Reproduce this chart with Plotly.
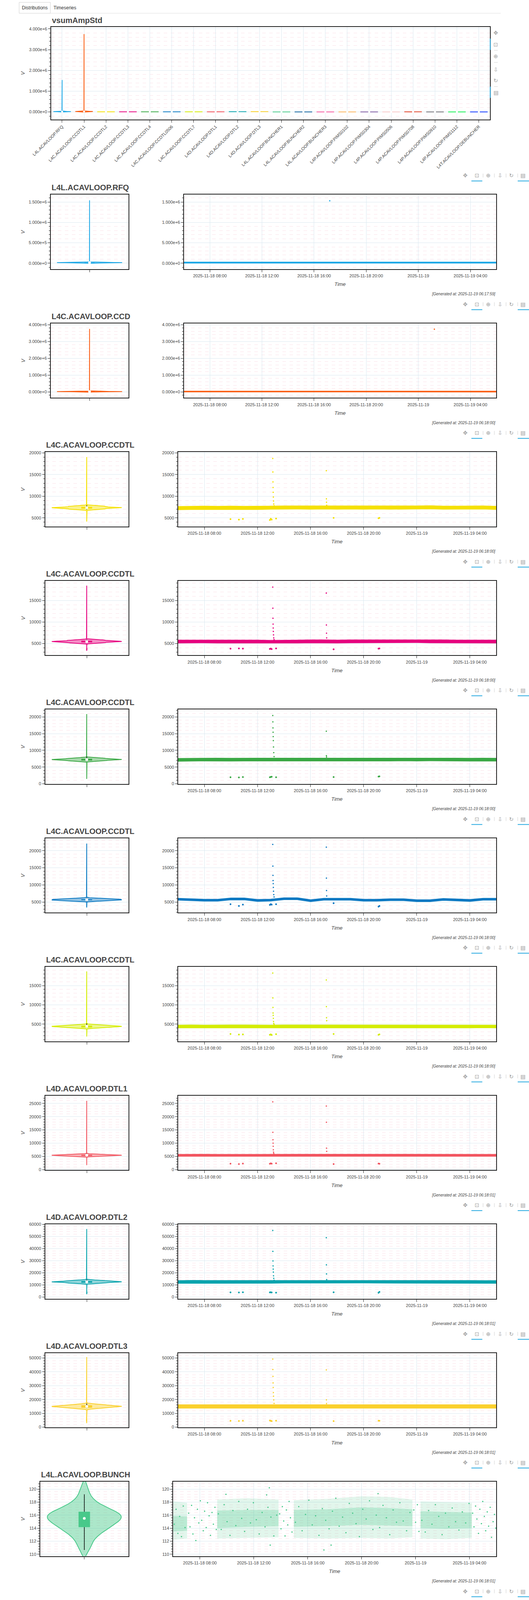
import numpy as np
import plotly.graph_objects as go

W, H = 1354, 7029
FONT = "Liberation Sans, Arial, sans-serif"

# ---------------- data ----------------
names = [
    "L4L.ACAVLOOP.RFQ", "L4C.ACAVLOOP.CCDTL1", "L4C.ACAVLOOP.CCDTL2", "L4C.ACAVLOOP.CCDTL3",
    "L4C.ACAVLOOP.CCDTL4", "L4C.ACAVLOOP.CCDTL0506", "L4C.ACAVLOOP.CCDTL7", "L4D.ACAVLOOP.DTL1",
    "L4D.ACAVLOOP.DTL2", "L4D.ACAVLOOP.DTL3", "L4L.ACAVLOOP.BUNCHER1", "L4L.ACAVLOOP.BUNCHER2",
    "L4L.ACAVLOOP.BUNCHER3", "L4P.ACAVLOOP.PIMS0102", "L4P.ACAVLOOP.PIMS0304", "L4P.ACAVLOOP.PIMS0506",
    "L4P.ACAVLOOP.PIMS0708", "L4P.ACAVLOOP.PIMS0910", "L4P.ACAVLOOP.PIMS1112", "L4T.ACAVLOOP.DEBUNCHER",
]
# panel titles as they show (clipped at the panel edge)
shown_titles = [
    "L4L.ACAVLOOP.RFQ", "L4C.ACAVLOOP.CCD", "L4C.ACAVLOOP.CCDTL", "L4C.ACAVLOOP.CCDTL",
    "L4C.ACAVLOOP.CCDTL", "L4C.ACAVLOOP.CCDTL", "L4C.ACAVLOOP.CCDTL", "L4D.ACAVLOOP.DTL1",
    "L4D.ACAVLOOP.DTL2", "L4D.ACAVLOOP.DTL3", "L4L.ACAVLOOP.BUNCH", "L4L.ACAVLOOP.BUNCHE",
    "L4L.ACAVLOOP.BUNCH", "L4P.ACAVLOOP.PIMS01", "L4P.ACAVLOOP.PIMS03", "L4P.ACAVLOOP.PIMS05",
    "L4P.ACAVLOOP.PIMS0", "L4P.ACAVLOOP.PIMS09", "L4P.ACAVLOOP.PIMS11", "L4T.ACAVLOOP.DEBUN",
]
generated_at = [
    "2025-11-19 06:17:59", "2025-11-19 06:18:00", "2025-11-19 06:18:00", "2025-11-19 06:18:00",
    "2025-11-19 06:18:00", "2025-11-19 06:18:00", "2025-11-19 06:18:00", "2025-11-19 06:18:01",
    "2025-11-19 06:18:01", "2025-11-19 06:18:01", "2025-11-19 06:18:01", "2025-11-19 06:18:01",
    "2025-11-19 06:18:01", "2025-11-19 06:18:02", "2025-11-19 06:18:02", "2025-11-19 06:18:02",
    "2025-11-19 06:18:02", "2025-11-19 06:18:02", "2025-11-19 06:18:02", "2025-11-19 06:18:03",
]

hours = [
    "2025-11-18 06:00", "2025-11-18 07:00", "2025-11-18 08:00", "2025-11-18 09:00", "2025-11-18 10:00",
    "2025-11-18 11:00", "2025-11-18 12:00", "2025-11-18 13:00", "2025-11-18 14:00", "2025-11-18 15:00",
    "2025-11-18 16:00", "2025-11-18 17:00", "2025-11-18 18:00", "2025-11-18 19:00", "2025-11-18 20:00",
    "2025-11-18 21:00", "2025-11-18 22:00", "2025-11-18 23:00", "2025-11-19 00:00", "2025-11-19 01:00",
    "2025-11-19 02:00", "2025-11-19 03:00", "2025-11-19 04:00", "2025-11-19 05:00", "2025-11-19 06:00",
]
spike_times = [
    "2025-11-18 13:09:00", "2025-11-18 13:09:30", "2025-11-18 13:10:00", "2025-11-18 13:10:30",
    "2025-11-18 13:11:00", "2025-11-18 13:11:40", "2025-11-18 13:12:30", "2025-11-18 13:13:30",
    "2025-11-18 13:15:00", "2025-11-18 17:11:00", "2025-11-18 17:11:30", "2025-11-18 17:12:00",
    "2025-11-18 17:12:40", "2025-11-19 01:14:00",
]
dip_times = [
    "2025-11-18 09:58", "2025-11-18 10:36", "2025-11-18 10:54", "2025-11-18 12:56", "2025-11-18 13:00",
    "2025-11-18 13:04", "2025-11-18 13:24", "2025-11-18 17:44", "2025-11-18 21:07", "2025-11-18 21:11",
]

# band centre (hourly), band half-thickness, spike values, dip values
mid_rfq = [16000, 15000, 15000, 15000, 15500, 15000, 15000, 15000, 15500, 15000, 15000, 15000, 15000,
           15000, 15000, 15500, 16000, 16000, 15000, 16000, 16000, 16000, 15500, 15000, 15000]
half_rfq = 9000
spk_rfq = [None, None, None, None, None, None, None, None, None, None, None, 1530000, None, None]
dip_rfq = []

mid_ccdtl1 = [21000, 20000, 20000, 20500, 20000, 20000, 20000, 19500, 20000, 20000, 20500, 20000, 20000,
              20000, 20000, 20500, 20000, 20000, 20000, 19500, 20000, 20000, 20500, 20000, 20000]
half_ccdtl1 = 15000
spk_ccdtl1 = [None, None, None, None, None, None, None, None, None, None, None, None, None, 3730000]
dip_ccdtl1 = []

mid_ccdtl2 = [7250, 7300, 7350, 7300, 7350, 7300, 7300, 7350, 7400, 7400, 7350, 7400, 7350,
              7400, 7350, 7400, 7350, 7350, 7400, 7450, 7350, 7350, 7400, 7400, 7300]
half_ccdtl2 = 330
spk_ccdtl2 = [18700, 15600, 13300, 12000, 10900, 9800, 8900, 8200, 7800, 15900, 9400, 8600, 7900, None]
dip_ccdtl2 = [4700, 4600, 4750, 4500, 4800, 4600, 4850, 5000, 4900, 5000]

mid_ccdtl3 = [5450, 5450, 5500, 5450, 5450, 5450, 5450, 5400, 5450, 5450, 5500, 5500, 5450,
              5500, 5500, 5500, 5500, 5550, 5550, 5500, 5500, 5450, 5450, 5450, 5450]
half_ccdtl3 = 300
spk_ccdtl3 = [18100, 13200, 10850, 9500, 8600, 7800, 7000, 6300, 5900, 16700, 9300, 7400, 6300, None]
dip_ccdtl3 = [3800, 3850, 3800, 3750, 3800, 3700, 3850, 3650, 3800, 3850]

mid_ccdtl4 = [7150, 7200, 7250, 7250, 7200, 7250, 7250, 7250, 7250, 7250, 7250, 7250, 7300,
              7300, 7300, 7250, 7250, 7300, 7250, 7300, 7300, 7250, 7200, 7250, 7200]
half_ccdtl4 = 380
spk_ccdtl4 = [20400, 18500, 16700, 15400, 14100, 12900, 11000, 9300, 8100, 15700, 8400, 8000, None, None]
dip_ccdtl4 = [1950, 1900, 2000, 1950, 2050, 2100, 1950, 2000, 2150, 2200]

mid_ccdtl0506 = [5860, 5700, 5570, 5570, 5930, 5930, 5500, 5600, 6000, 6000, 5430, 5860, 5860,
                 5860, 5570, 5570, 5720, 5720, 5430, 5430, 5800, 5640, 5500, 5860, 5860]
half_ccdtl0506 = 230
spk_ccdtl0506 = [21800, 15500, 12800, 11300, 10400, 9300, 8200, 7200, 6500, 21000, 12000, 8400, 6800, None]
dip_ccdtl0506 = [4400, 3900, 4300, 4200, 4400, 4300, 4400, 4700, 3700, 3900]

mid_ccdtl7 = [4400, 4450, 4400, 4450, 4450, 4450, 4400, 4400, 4450, 4450, 4450, 4450, 4450,
              4450, 4400, 4400, 4400, 4450, 4400, 4450, 4450, 4400, 4400, 4450, 4400]
half_ccdtl7 = 320
spk_ccdtl7 = [18250, 11800, 9350, 7900, 7300, 6500, 5700, 5200, 4900, 16450, 9550, 6650, 5900, None]
dip_ccdtl7 = [2450, 2300, 2350, 2250, 2350, 2200, 2400, 2450, 2250, 2350]

mid_dtl1 = [5400, 5450, 5450, 5400, 5450, 5400, 5400, 5450, 5450, 5450, 5450, 5450, 5450,
            5450, 5450, 5450, 5450, 5400, 5450, 5450, 5450, 5450, 5400, 5400, 5400]
half_dtl1 = 320
spk_dtl1 = [25600, 14100, 11300, 10000, 8800, 7500, 6600, 6100, 5800, 24000, 17900, 8100, 6900, None]
dip_dtl1 = [2250, 2100, 2300, 2200, 2350, 2250, 2400, 2100, 2300, 2200]

mid_dtl2 = [12400, 12600, 12500, 12500, 12500, 12500, 12500, 12500, 12600, 12700, 12600, 12600, 12600,
            12600, 12700, 12600, 12600, 12600, 12500, 12500, 12600, 12500, 12500, 12400, 12400]
half_dtl2 = 1000
spk_dtl2 = [55000, 37700, 29800, 25700, 23000, 20600, 17500, 15400, 13800, 49000, 26600, 19100, 14400, None]
dip_dtl2 = [3800, 3700, 3900, 3800, 3900, 3700, 3600, 3900, 3500, 4200]

mid_dtl3 = [15000, 15100, 15000, 15000, 15000, 15000, 15000, 15000, 15100, 15100, 15100, 15000, 15000,
            15100, 15000, 15000, 15100, 15100, 15000, 15100, 15100, 15100, 15000, 15000, 15000]
half_dtl3 = 1150
spk_dtl3 = [49200, 41700, 36700, 32000, 28700, 25000, 22400, 19700, 17200, 41400, 19700, 17000, None, None]
dip_dtl3 = [4600, 4500, 4700, 4800, 4600, 4400, 4700, 4400, 4700, 4600]

mid_pims0102 = [2560, 2570, 2560, 2560, 2560, 2570, 2570, 2600, 2570, 2580, 2580, 2570, 2570,
                2570, 2580, 2580, 2600, 2580, 2600, 2620, 2600, 2600, 2550, 2560, 2560]
half_pims0102 = 170
spk_pims0102 = [9090, 7370, 6430, 5580, 5030, 4510, 4050, 3510, 3000, 8430, 3950, 3330, 2700, None]
dip_pims0102 = [1600, 1620, 1650, 1580, 1700, 1620, 1650, 1600, 1700, 1550]

mid_pims0304 = [2050, 2050, 2050, 2050, 2050, 2050, 2050, 2050, 2050, 2050, 2050, 2080, 2080,
                2080, 2050, 2050, 2050, 2050, 2050, 2100, 2100, 2100, 2050, 2000, 2000]
half_pims0304 = 190
spk_pims0304 = [7830, 4170, 3380, 2910, 2500, None, None, None, None, 7250, 6060, 3040, 2400, None]
dip_pims0304 = [1350, 1380, 1400, 1300, 1420, 1350, 1400, 1380, 1250, 1450]

mid_pims0506 = [3000, 2960, 2950, 2950, 2940, 2950, 2950, 2960, 2950, 2960, 2950, 2960, 2960,
                2970, 2980, 2970, 2980, 2960, 2960, 2970, 2960, 2960, 2950, 2940, 2950]
half_pims0506 = 170
spk_pims0506 = [8300, 7420, 6410, 5780, 5150, 4530, 3900, 3500, 3150, 8050, 3700, 3300, None, None]
dip_pims0506 = [2200, 2250, 2300, 2000, 2150, 2050, 2400, 2100, 2200, 2350]

mid_pims0708 = [4280, 4300, 4320, 4300, 4310, 4300, 4300, 4320, 4300, 4330, 4320, 4310, 4300,
                4320, 4330, 4320, 4300, 4320, 4330, 4340, 4330, 4330, 4320, 4300, 4310]
half_pims0708 = 300
spk_pims0708 = [9800, 7760, 6620, 6290, 5550, 5030, 4700, None, None, 9050, 5230, 4600, None, None]
dip_pims0708 = [3620, 3640, 3700, 3650, 3600, 3630, 3680, 3700, 3560, 3600]

mid_pims0910 = [2430, 2440, 2440, 2430, 2440, 2440, 2440, 2440, 2450, 2440, 2440, 2440, 2450,
                2440, 2440, 2440, 2440, 2440, 2450, 2450, 2440, 2440, 2440, 2430, 2430]
half_pims0910 = 130
spk_pims0910 = [8890, 7720, 6780, 6000, 5530, 5050, 4590, 3960, 3330, 7980, 3230, 3000, None, None]
dip_pims0910 = [1080, 1070, 1090, 1100, 1060, 1090, 1080, 1050, 1100, 1090]

mid_pims1112 = [2300, 2310, 2300, 2300, 2300, 2300, 2300, 2300, 2310, 2300, 2300, 2300, 2300,
                2310, 2300, 2300, 2310, 2300, 2300, 2300, 2300, 2300, 2300, 2310, 2300]
half_pims1112 = 110
spk_pims1112 = [8720, 5860, 4710, 4050, 3500, 3000, 2700, None, None, 7300, 4320, 3150, 2600, None]
dip_pims1112 = [1220, 1210, 1230, 1200, 1220, 1210, 1230, 1200, 1230, 1220]

mid_debuncher = [460, 450, 440, 450, 450, 450, 450, 440, 450, 450, 440, 450, 450,
                 450, 450, 450, 450, 440, 450, 460, 450, 450, 450, 450, 450]
half_debuncher = 90
spk_debuncher = [2820, 2320, 2150, 1730, 1280, 1090, 930, 800, 680, 3260, 1270, 1090, 740, None]
dip_debuncher = [210, 200, 210, 220, 200, 190, 210, 190, 210, 220]

# buncher 2: narrow band plus an early cluster
mid_b2 = [43.6, 43.5, 43.4, 43.4, 43.4, 43.5, 43.5, 43.5, 43.5, 43.6, 43.6, 43.5, 43.6,
          43.6, 43.6, 43.6, 43.6, 43.6, 43.6, 43.5, 43.5, 43.5, 43.5, 43.4, 43.4]
half_b2 = 0.65
b2_clu_t = ["2025-11-18 06:01", "2025-11-18 06:30", "2025-11-18 06:58"]
b2_clu_lo = [52.3, 52.2, 52.5]
b2_clu_hi = [54.1, 54.3, 54.0]
b2_pts_t = ["2025-11-18 06:33", "2025-11-18 07:12", "2025-11-18 07:18", "2025-11-18 07:24",
            "2025-11-18 07:31", "2025-11-18 07:37"]
b2_pts_v = [62.0, 53.1, 52.9, 53.3, 53.0, 53.2]
b2_dist = [42.6, 42.8, 42.9, 43.0, 43.1, 43.1, 43.2, 43.2, 43.3, 43.3, 43.4, 43.4, 43.4, 43.5, 43.5,
           43.5, 43.5, 43.6, 43.6, 43.6, 43.7, 43.7, 43.8, 43.8, 43.9, 43.9, 44.0, 44.1, 44.2, 44.3,
           44.5, 44.8, 52.6, 52.9, 53.1, 53.3, 53.6, 62.0]

# bunchers 1 and 3: noisy clouds (dense spans, outer edges and inner quartiles)
cloud_t = ["2025-11-18 06:01", "2025-11-18 07:03", None,
           "2025-11-18 09:17", "2025-11-18 11:30", "2025-11-18 13:50", None,
           "2025-11-18 14:58", "2025-11-18 17:30", "2025-11-18 20:00", "2025-11-18 22:00", "2025-11-18 23:46", None,
           "2025-11-19 00:22", "2025-11-19 02:15", "2025-11-19 04:10"]
b1_lo = [112.2, 112.4, None, 112.4, 112.5, 112.6, None, 112.5, 112.4, 112.5, 112.4, 112.6, None, 112.4, 112.3, 112.5]
b1_hi = [118.1, 117.9, None, 118.4, 118.6, 118.4, None, 118.3, 118.5, 118.9, 118.8, 118.4, None, 118.1, 118.0, 117.9]
b1_q1 = [113.5, 113.6, None, 114.0, 114.2, 114.3, None, 114.2, 114.3, 114.5, 114.4, 114.3, None, 114.0, 113.9, 114.0]
b1_q3 = [115.9, 115.8, None, 116.7, 116.8, 116.8, None, 116.8, 116.9, 117.2, 117.1, 116.9, None, 116.6, 116.5, 116.4]
b3_lo = [88.0, 88.3, None, 88.5, 88.3, 88.6, None, 88.2, 88.0, 87.8, 87.6, 87.8, None, 87.8, 87.6, 88.0]
b3_hi = [104.5, 104.0, None, 103.6, 104.0, 103.8, None, 103.8, 104.2, 104.5, 104.6, 104.3, None, 104.4, 104.2, 103.9]
b3_q1 = [92.6, 92.8, None, 93.0, 93.2, 93.2, None, 93.0, 93.1, 93.3, 93.2, 93.0, None, 93.3, 93.2, 93.0]
b3_q3 = [99.2, 99.0, None, 99.3, 99.5, 99.4, None, 99.4, 99.6, 99.8, 99.9, 99.7, None, 99.8, 99.6, 99.4]

# individual dots seen inside the dense spans of the clouds
dense_t = [
    "2025-11-18 06:06", "2025-11-18 06:14", "2025-11-18 06:22", "2025-11-18 06:30", "2025-11-18 06:38",
    "2025-11-18 06:46", "2025-11-18 06:54",
    "2025-11-18 09:22", "2025-11-18 09:35", "2025-11-18 09:48", "2025-11-18 10:01", "2025-11-18 10:14",
    "2025-11-18 10:27", "2025-11-18 10:40", "2025-11-18 10:53", "2025-11-18 11:06", "2025-11-18 11:19",
    "2025-11-18 11:32", "2025-11-18 11:45", "2025-11-18 11:58", "2025-11-18 12:11", "2025-11-18 12:24",
    "2025-11-18 12:37", "2025-11-18 12:50", "2025-11-18 13:03", "2025-11-18 13:16", "2025-11-18 13:29",
    "2025-11-18 13:42",
    "2025-11-18 15:05", "2025-11-18 15:20", "2025-11-18 15:35", "2025-11-18 15:50", "2025-11-18 16:05",
    "2025-11-18 16:20", "2025-11-18 16:35", "2025-11-18 16:50", "2025-11-18 17:05", "2025-11-18 17:20",
    "2025-11-18 17:35", "2025-11-18 17:50", "2025-11-18 18:05", "2025-11-18 18:20", "2025-11-18 18:35",
    "2025-11-18 18:50", "2025-11-18 19:05", "2025-11-18 19:20", "2025-11-18 19:35", "2025-11-18 19:50",
    "2025-11-18 20:05", "2025-11-18 20:20", "2025-11-18 20:35", "2025-11-18 20:50", "2025-11-18 21:05",
    "2025-11-18 21:20", "2025-11-18 21:35", "2025-11-18 21:50", "2025-11-18 22:05", "2025-11-18 22:20",
    "2025-11-18 22:35", "2025-11-18 22:50", "2025-11-18 23:05", "2025-11-18 23:20", "2025-11-18 23:35",
    "2025-11-19 00:28", "2025-11-19 00:43", "2025-11-19 00:58", "2025-11-19 01:13", "2025-11-19 01:28",
    "2025-11-19 01:43", "2025-11-19 01:58", "2025-11-19 02:13", "2025-11-19 02:28", "2025-11-19 02:43",
    "2025-11-19 02:58", "2025-11-19 03:13", "2025-11-19 03:28", "2025-11-19 03:43", "2025-11-19 03:58",
]
b1_dense = [114.6, 116.9, 113.2, 115.8, 112.7, 117.4, 114.1,
            116.2, 113.8, 117.6, 115.0, 112.9, 116.7, 114.4, 118.1, 115.5, 113.5, 116.9, 114.8, 117.9,
            115.3, 113.1, 116.4, 114.2, 117.2, 115.7, 112.8, 116.0,
            114.9, 117.3, 113.6, 116.1, 118.3, 114.5, 115.9, 112.9, 117.0, 115.2, 113.9, 116.6, 118.6,
            114.3, 115.7, 113.3, 117.8, 116.3, 114.7, 112.7, 116.9, 115.4, 118.2, 113.8, 116.0, 114.1,
            117.5, 115.6, 113.0, 116.8, 114.9, 117.9, 115.1, 113.6, 116.4,
            115.2, 113.4, 116.7, 114.6, 117.6, 115.8, 113.0, 116.3, 114.2, 117.1, 115.0, 113.7, 116.5,
            114.8, 117.8]
b3_dense = [94.5, 100.2, 90.8, 97.6, 88.9, 102.8, 95.3,
            98.7, 92.9, 103.1, 96.0, 89.6, 100.9, 94.1, 97.8, 91.7, 101.6, 95.6, 88.8, 99.4, 93.5,
            104.0, 96.9, 90.6, 98.2, 94.8, 102.2, 92.3,
            97.3, 91.2, 100.6, 95.0, 103.6, 89.3, 98.9, 93.9, 96.6, 101.9, 90.1, 99.7, 94.4, 104.5,
            92.6, 97.1, 88.5, 100.3, 95.8, 102.7, 93.1, 98.4, 90.9, 96.2, 103.0, 94.0, 99.2, 91.5,
            97.9, 101.3, 89.8, 95.4, 100.0, 92.0, 98.1,
            96.4, 90.3, 101.0, 94.6, 99.0, 88.7, 97.5, 103.4, 92.8, 98.6, 95.1, 101.7, 91.1, 97.0, 94.2]

sparse_t = [
    "2025-11-18 07:10", "2025-11-18 07:16", "2025-11-18 07:23", "2025-11-18 07:29", "2025-11-18 07:36",
    "2025-11-18 07:42", "2025-11-18 07:49", "2025-11-18 07:55", "2025-11-18 08:02", "2025-11-18 08:08",
    "2025-11-18 08:15", "2025-11-18 08:21", "2025-11-18 08:28", "2025-11-18 08:34", "2025-11-18 08:41",
    "2025-11-18 08:47", "2025-11-18 08:54", "2025-11-18 09:00", "2025-11-18 09:07", "2025-11-18 09:13",
    "2025-11-18 13:55", "2025-11-18 14:01", "2025-11-18 14:07", "2025-11-18 14:13", "2025-11-18 14:19",
    "2025-11-18 14:25", "2025-11-18 14:31", "2025-11-18 14:37", "2025-11-18 14:43", "2025-11-18 14:50",
    "2025-11-18 23:52", "2025-11-19 00:00", "2025-11-19 00:08", "2025-11-19 00:15",
    "2025-11-19 04:14", "2025-11-19 04:20", "2025-11-19 04:27", "2025-11-19 04:33", "2025-11-19 04:40",
    "2025-11-19 04:46", "2025-11-19 04:53", "2025-11-19 04:59", "2025-11-19 05:06", "2025-11-19 05:12",
    "2025-11-19 05:19", "2025-11-19 05:25", "2025-11-19 05:32", "2025-11-19 05:38", "2025-11-19 05:45",
    "2025-11-19 05:51", "2025-11-19 05:57",
]
b1_sparse = [116.3, 114.2, 117.5, 113.1, 115.6, 112.1, 116.9, 114.8, 118.2, 115.2, 113.6, 116.6, 114.1,
             117.9, 115.9, 112.9, 116.4, 114.6, 117.2, 113.8,
             116.2, 113.9, 117.3, 115.1, 112.8, 116.8, 114.5, 118.1, 115.6, 113.4,
             116.8, 114.9, 117.6, 113.5,
             116.3, 114.2, 117.4, 115.4, 113.2, 116.9, 114.7, 118.1, 115.8, 113.6, 116.5, 114.3, 117.2,
             112.6, 115.0, 116.1, 114.0]
b3_sparse = [98.5, 93.2, 101.7, 90.4, 96.1, 88.6, 103.2, 94.8, 99.9, 92.1, 97.4, 105.3, 91.0,
             95.6, 100.8, 89.3, 97.9, 93.7, 102.4, 95.0,
             99.1, 92.4, 103.8, 96.6, 89.9, 100.4, 94.2, 97.7, 91.5, 101.9,
             98.2, 93.0, 102.6, 95.5,
             97.1, 91.8, 100.7, 94.6, 104.9, 89.2, 96.3, 99.4, 92.7, 102.1, 95.9, 88.4, 98.8,
             93.5, 101.2, 96.8, 90.6]
b1_out_t = ["2025-11-18 09:56", "2025-11-18 12:57", "2025-11-18 13:09", "2025-11-18 13:13",
            "2025-11-18 17:12", "2025-11-18 17:44", "2025-11-18 21:13"]
b1_out_v = [119.2, 119.1, 120.2, 111.4, 110.65, 111.4, 119.3]
b3_out_t = ["2025-11-18 09:52", "2025-11-18 14:09", "2025-11-18 18:17", "2025-11-19 00:32",
            "2025-11-19 00:51", "2025-11-19 03:10"]
b3_out_v = [109.9, 109.9, 110.8, 111.4, 84.2, 85.4]
b1_dist = [110.65, 111.2, 111.9, 112.4, 112.8, 113.1, 113.4, 113.6, 113.8, 114.0, 114.2, 114.3, 114.5,
           114.6, 114.8, 114.9, 115.0, 115.1, 115.3, 115.4, 115.5, 115.6, 115.7, 115.8, 115.9, 116.0,
           116.1, 116.2, 116.3, 116.4, 116.5, 116.6, 116.8, 117.0, 117.2, 117.4, 117.7, 118.0, 118.5,
           119.2, 120.2]
b3_dist = [84.2, 85.5, 87.5, 88.6, 89.5, 90.3, 91.0, 91.6, 92.2, 92.7, 93.2, 93.6, 94.0, 94.4, 94.8,
           95.1, 95.5, 95.8, 96.1, 96.4, 96.7, 97.0, 97.3, 97.6, 98.0, 98.3, 98.7, 99.1, 99.5, 100.0,
           100.5, 101.1, 101.8, 102.6, 103.5, 104.6, 106.0, 108.0, 111.4]

band_rows = {
    0: (mid_rfq, half_rfq, spk_rfq, dip_rfq),
    1: (mid_ccdtl1, half_ccdtl1, spk_ccdtl1, dip_ccdtl1),
    2: (mid_ccdtl2, half_ccdtl2, spk_ccdtl2, dip_ccdtl2),
    3: (mid_ccdtl3, half_ccdtl3, spk_ccdtl3, dip_ccdtl3),
    4: (mid_ccdtl4, half_ccdtl4, spk_ccdtl4, dip_ccdtl4),
    5: (mid_ccdtl0506, half_ccdtl0506, spk_ccdtl0506, dip_ccdtl0506),
    6: (mid_ccdtl7, half_ccdtl7, spk_ccdtl7, dip_ccdtl7),
    7: (mid_dtl1, half_dtl1, spk_dtl1, dip_dtl1),
    8: (mid_dtl2, half_dtl2, spk_dtl2, dip_dtl2),
    9: (mid_dtl3, half_dtl3, spk_dtl3, dip_dtl3),
    13: (mid_pims0102, half_pims0102, spk_pims0102, dip_pims0102),
    14: (mid_pims0304, half_pims0304, spk_pims0304, dip_pims0304),
    15: (mid_pims0506, half_pims0506, spk_pims0506, dip_pims0506),
    16: (mid_pims0708, half_pims0708, spk_pims0708, dip_pims0708),
    17: (mid_pims0910, half_pims0910, spk_pims0910, dip_pims0910),
    18: (mid_pims1112, half_pims1112, spk_pims1112, dip_pims1112),
    19: (mid_debuncher, half_debuncher, spk_debuncher, dip_debuncher),
}

# ---------------- styling / layout ----------------
colors = ["#1ea8e6", "#fa5a0f", "#f5e000", "#e6007e", "#3aa845", "#0a78c2", "#d4ec00", "#f25560",
          "#0aa3ad", "#fad02c", "#48c98a", "#0a5e9c", "#f5559e", "#fbb45a", "#7a56a0", "#f8c8c8",
          "#e0432a", "#6d6d75", "#10f050", "#0a32ff"]
y_ranges = [[-144000, 1680000], [-350000, 4080000], [3000, 20200], [2280, 19570], [-50, 22230],
            [1950, 23640], [550, 19850], [-150, 27970], [-1450, 60100], [-200, 53650],
            [109.7, 121.14], [40.4, 63.9], [82.3, 114.0], [765, 9850], [600, 8500], [1405, 8930],
            [2930, 10420], [270, 9675], [430, 9470], [-115, 3570]]
y_dticks = [500000, 1000000, 5000, 5000, 5000, 5000, 5000, 5000, 10000, 10000,
            2, 5, 5, 2000, 2000, 2000, 2000, 2000, 2000, 1000]
vio_left = [84, 84, 69, 69, 69, 69, 69, 69, 69, 69, 56, 50, 56, 62, 62, 62, 69, 62, 62, 62]
ts_left = [438, 438, 422, 422, 422, 422, 422, 422, 422, 422, 409, 403, 409, 415, 415, 415, 422, 415, 415, 415]
VIO_RIGHT, TS_RIGHT = 290, 1267
ROW0, PITCH, PH = 493, 330, 191
TS_RANGE = ["2025-11-18 06:01", "2025-11-19 05:59"]
tick_times = ["2025-11-18 08:00", "2025-11-18 12:00", "2025-11-18 16:00", "2025-11-18 20:00",
              "2025-11-19 00:00", "2025-11-19 04:00"]
tick_text = ["2025-11-18 08:00", "2025-11-18 12:00", "2025-11-18 16:00", "2025-11-18 20:00",
             "2025-11-19", "2025-11-19 04:00"]

GRID, MINOR, FRAME, TICK = "#dbe8f0", "#fbe1e8", "#1e1e1e", "#444444"
ICONS = ["\u2725", "\u22a1", "\u2295", "\u21e9", "\u21bb", "\u25a4"]


def rgba(hx, a):
    hx = hx.lstrip("#")
    return "rgba(%d,%d,%d,%.2f)" % (int(hx[0:2], 16), int(hx[2:4], 16), int(hx[4:6], 16), a)


def wquant(v, w, qs):
    idx = np.argsort(v)
    v, w = v[idx], w[idx]
    c = (np.cumsum(w) - 0.5 * w) / w.sum()
    return [float(np.interp(q, c, v)) for q in qs]


def profile(vals, wts):
    v = np.asarray(vals, float)
    w = np.asarray(wts, float)
    q1, med, q3 = wquant(v, w, [0.25, 0.5, 0.75])
    m = np.average(v, weights=w)
    sd = np.sqrt(np.average((v - m) ** 2, weights=w))
    neff = w.sum() ** 2 / (w ** 2).sum()
    spread = min(sd, (q3 - q1) / 1.34) if q3 > q1 else sd
    bw = 0.9 * spread * neff ** -0.2
    grid = np.linspace(v.min() - 3 * bw, v.max() + 3 * bw, 1500)
    dens = np.exp(-0.5 * ((grid[:, None] - v[None, :]) / bw) ** 2) @ w
    dens = dens / dens.max()
    iqr = q3 - q1
    lo_w = v[v >= q1 - 1.5 * iqr].min()
    hi_w = v[v <= q3 + 1.5 * iqr].max()
    return grid, dens, q1, med, q3, lo_w, hi_w


fig = go.Figure()
shapes, annotations, axes = [], [], {}


def add(tr, xa, ya):
    tr.update(xaxis=xa, yaxis=ya, showlegend=False, hoverinfo="skip")
    fig.add_trace(tr)


def draw_violin(vals, wts, xc, hw, bhw, color, xa, ya, lw, dot):
    grid, dens, q1, med, q3, lo_w, hi_w = profile(vals, wts)
    xs = list(xc + hw * dens) + list((xc - hw * dens)[::-1]) + [xc + hw * dens[0]]
    ys = list(grid) + list(grid[::-1]) + [grid[0]]
    add(go.Scatter(x=xs, y=ys, mode="lines", fill="toself", fillcolor=rgba(color, 0.45),
                   line=dict(color=color, width=lw)), xa, ya)
    add(go.Scatter(x=[xc, xc], y=[lo_w, hi_w], mode="lines", line=dict(color="black", width=1.5)), xa, ya)
    add(go.Scatter(x=[xc - bhw, xc + bhw, xc + bhw, xc - bhw, xc - bhw], y=[q1, q1, q3, q3, q1],
                   mode="lines", fill="toself", fillcolor=color, line=dict(width=0)), xa, ya)
    add(go.Scatter(x=[xc], y=[med], mode="markers", marker=dict(color="white", size=dot)), xa, ya)


def draw_band(t, lo, hi, color, opacity, lw, xa, ya):
    xs, ys, st, sl, sh = [], [], [], [], []
    for tt, a, b in zip(list(t) + [None], list(lo) + [None], list(hi) + [None]):
        if tt is None:
            if st:
                xs += st + st[::-1] + [st[0], None]
                ys += sh + sl[::-1] + [sh[0], None]
            st, sl, sh = [], [], []
        else:
            st.append(tt)
            sl.append(a)
            sh.append(b)
    line = dict(color=rgba(color, opacity), width=lw) if lw else dict(width=0)
    add(go.Scatter(x=xs, y=ys, mode="lines", fill="toself", fillcolor=rgba(color, opacity), line=line), xa, ya)


def draw_points(t, v, color, size, xa, ya):
    pts = [(a, b) for a, b in zip(t, v) if b is not None]
    if pts:
        add(go.Scatter(x=[p[0] for p in pts], y=[p[1] for p in pts], mode="markers",
                       marker=dict(color=color, size=size, line=dict(width=0))), xa, ya)


def samples(i):
    if i == 10:
        return b1_dist, [1] * len(b1_dist)
    if i == 11:
        return b2_dist, [1] * len(b2_dist)
    if i == 12:
        return b3_dist, [1] * len(b3_dist)
    m, h, s, d = band_rows[i]
    lo = [x - h for x in m]
    hi = [x + h for x in m]
    sv = [x for x in s if x is not None]
    vals = lo + list(m) + hi + sv + list(d)
    wts = [60] * len(lo) + [120] * len(m) + [60] * len(hi) + [1] * len(sv) + [3] * len(d)
    return vals, wts


def ann(x, y, text, size=11, color=TICK, family=FONT, style="normal", xanchor="center", **kw):
    annotations.append(dict(x=x / W, y=1 - y / H, xref="paper", yref="paper", text=text, showarrow=False,
                            xanchor=xanchor, yanchor="middle",
                            font=dict(family=family, size=size, color=color, style=style), **kw))


def hline(x0, x1, y, color, width):
    shapes.append(dict(type="line", xref="paper", yref="paper", x0=x0 / W, x1=x1 / W,
                       y0=1 - y / H, y1=1 - y / H, line=dict(color=color, width=width)))


def vline(x, y0, y1, color, width):
    shapes.append(dict(type="line", xref="paper", yref="paper", x0=x / W, x1=x / W,
                       y0=1 - y0 / H, y1=1 - y1 / H, line=dict(color=color, width=width)))


def yaxis_dict(top, rng, dtick, fmt, anchor):
    return dict(domain=[1 - (top + PH) / H, 1 - top / H], range=rng, dtick=dtick, tick0=0, tickformat=fmt,
                anchor=anchor, showgrid=True, gridcolor=GRID, zeroline=False, showline=True, mirror=True,
                linecolor=FRAME, linewidth=2, ticks="outside", ticklen=6, tickcolor=FRAME,
                tickfont=dict(family=FONT, size=11, color=TICK),
                minor=dict(dtick=dtick / 5, tick0=0, ticks="outside", ticklen=3, tickcolor=FRAME,
                           showgrid=True, gridcolor=MINOR, griddash="dash"))


frame = dict(showline=True, mirror=True, linecolor=FRAME, linewidth=2, zeroline=False,
             ticks="outside", ticklen=6, tickcolor=FRAME, tickfont=dict(family=FONT, size=11, color=TICK))

# ---------------- tabs ----------------
shapes.append(dict(type="rect", xref="paper", yref="paper", x0=0, x1=83 / W, y0=1 - 28 / H, y1=1,
                   line=dict(color="#cfcfcf", width=1), fillcolor="white"))
hline(83, 1279, 28, "#dedede", 1)
ann(41.5, 14, "Distributions", size=12, color="#333")
ann(121.5, 14, "Timeseries", size=12, color="#333")

# ---------------- overview violins ----------------
TOP_T, TOP_B = 63, 300
axes["xaxis"] = dict(domain=[85 / W, 1250 / W], range=[-0.5, 19.5], anchor="y", tickvals=list(range(20)),
                     ticktext=names, tickangle=-45, showgrid=True, gridcolor=GRID, **frame)
axes["yaxis"] = dict(domain=[1 - TOP_B / H, 1 - TOP_T / H], range=[-357000, 4094000], dtick=1000000, tick0=0,
                     tickformat=".3e", anchor="x", showgrid=True, gridcolor=GRID,
                     minor=dict(dtick=200000, tick0=0, ticks="outside", ticklen=3, tickcolor=FRAME,
                                showgrid=True, gridcolor=MINOR, griddash="dash"), **frame)
for i in range(20):
    vals, wts = samples(i)
    draw_violin(vals, wts, i, 0.4, 0.05, colors[i], "x", "y", 2, 5)
ann(85, 46, "<b>vsumAmpStd</b>", size=20, xanchor="left")
ann(10, (TOP_T + TOP_B) / 2, "V", size=13, style="italic", textangle=-90)
for k, yy in enumerate([78, 108, 138, 172, 200, 231]):
    ann(1266, yy, ICONS[k], size=14, color="#a0a0a0", family="DejaVu Sans")
for yy in [123, 154, 216]:
    hline(1261, 1271, yy, "#d0d0d0", 1)
vline(1251, 93, 122, "#26a9e0", 2)
vline(1251, 216, 245, "#26a9e0", 2)

# ---------------- one row per cavity ----------------
for i in range(20):
    top = ROW0 + PITCH * i
    bot = top + PH
    color = colors[i]
    nv, nt = 2 + 2 * i, 3 + 2 * i
    xv, yv, xt, yt = "x%d" % nv, "y%d" % nv, "x%d" % nt, "y%d" % nt
    fmt = ".3e" if i < 2 else "d"

    axes["xaxis%d" % nv] = dict(domain=[vio_left[i] / W, VIO_RIGHT / W], range=[-0.5, 0.5], anchor=yv,
                                tickvals=[0], ticktext=[""], showgrid=False, **frame)
    axes["yaxis%d" % nv] = yaxis_dict(top, y_ranges[i], y_dticks[i], fmt, xv)
    axes["xaxis%d" % nt] = dict(domain=[ts_left[i] / W, TS_RIGHT / W], type="date", range=TS_RANGE, anchor=yt,
                                tickvals=tick_times, ticktext=tick_text, showgrid=True, gridcolor=GRID, **frame)
    axes["yaxis%d" % nt] = yaxis_dict(top, y_ranges[i], y_dticks[i], fmt, xt)

    vals, wts = samples(i)
    draw_violin(vals, wts, 0, 0.42, 0.065, color, xv, yv, 2, 7)

    if i in band_rows:
        m, h, s, d = band_rows[i]
        draw_band(hours, [x - h for x in m], [x + h for x in m], color, 1, 2.5, xt, yt)
        draw_points(dip_times, d, color, 4.5, xt, yt)
        draw_points(spike_times, s, color, 3.5, xt, yt)
    elif i == 11:
        draw_band(hours, [x - half_b2 for x in mid_b2], [x + half_b2 for x in mid_b2], color, 1, 2.5, xt, yt)
        draw_band(b2_clu_t, b2_clu_lo, b2_clu_hi, color, 1, 2.5, xt, yt)
        draw_points(b2_pts_t, b2_pts_v, color, 3.5, xt, yt)
    else:
        lo, hi, q1, q3, dn, sp, ot, ov = (
            (b1_lo, b1_hi, b1_q1, b1_q3, b1_dense, b1_sparse, b1_out_t, b1_out_v) if i == 10
            else (b3_lo, b3_hi, b3_q1, b3_q3, b3_dense, b3_sparse, b3_out_t, b3_out_v))
        draw_band(cloud_t, lo, hi, color, 0.16, 0, xt, yt)
        draw_band(cloud_t, q1, q3, color, 0.26, 0, xt, yt)
        draw_points(dense_t, dn, color, 3.5, xt, yt)
        draw_points(sparse_t, sp, color, 3.5, xt, yt)
        draw_points(ot, ov, color, 3.5, xt, yt)

    ann(vio_left[i], top - 18, "<b>%s</b>" % shown_titles[i], size=20, xanchor="left")
    ann(10, top + PH / 2, "V", size=13, style="italic", textangle=-90)
    ann((ts_left[i] + TS_RIGHT) / 2, bot + 39, "Time", size=13, style="italic")
    ann(TS_RIGHT, bot + 64, "[Generated at: %s]" % generated_at[i], size=10, style="italic", xanchor="right")
    for k, xx in enumerate([1185, 1216, 1246, 1277, 1307, 1338]):
        ann(xx, top - 49, ICONS[k], size=14, color="#a0a0a0", family="DejaVu Sans")
    for xx in [1232, 1262, 1293, 1324]:
        vline(xx, top - 54, top - 44, "#d0d0d0", 1)
    hline(1201, 1230, top - 35, "#26a9e0", 2)
    hline(1324, 1354, top - 35, "#26a9e0", 2)

fig.update_layout(width=W, height=H, margin=dict(l=0, r=0, t=0, b=0), paper_bgcolor="white",
                  plot_bgcolor="white", showlegend=False, hovermode=False,
                  font=dict(family=FONT, color=TICK), shapes=shapes, annotations=annotations, **axes)

fig.write_html("out.html", config={"displayModeBar": False, "staticPlot": True},
               post_script="document.body.style.margin='0';")
